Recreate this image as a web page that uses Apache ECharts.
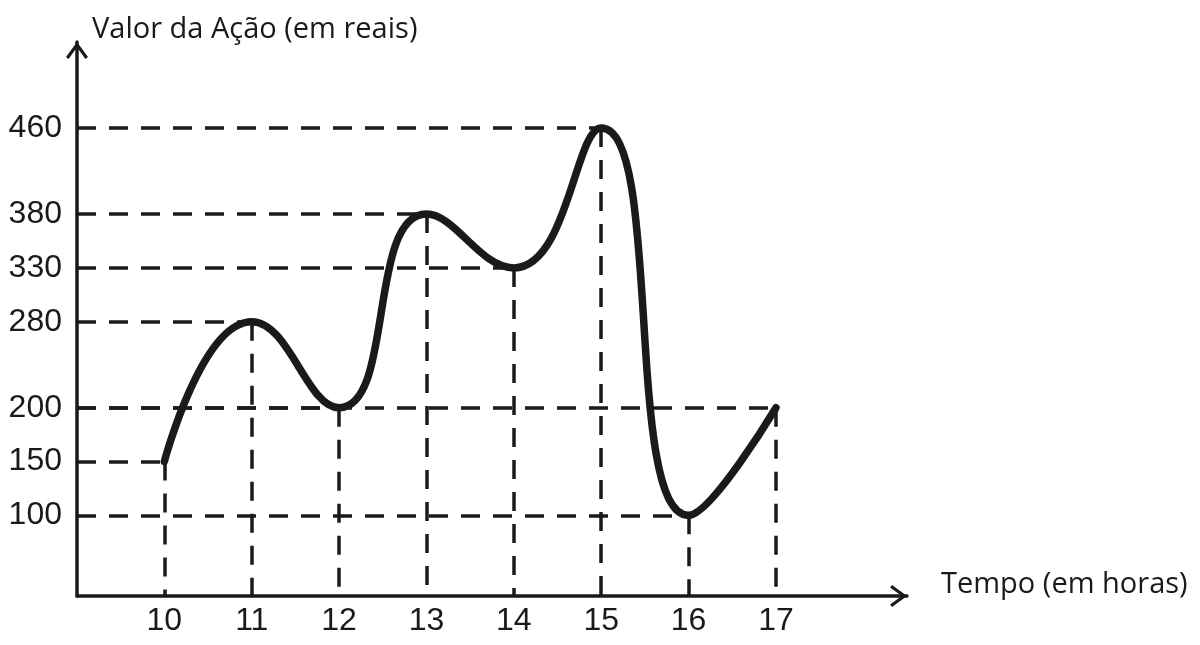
<!DOCTYPE html>
<html>
<head>
<meta charset="utf-8">
<script src="https://cdn.jsdelivr.net/npm/echarts@6/dist/echarts.min.js"></script>
<style>
  html, body { margin: 0; padding: 0; background: #ffffff; }
  #chart { width: 1200px; height: 645px; }
</style>
</head>
<body>
<div id="chart"></div>
<script>
// ---- data ----
var hours = [10, 11, 12, 13, 14, 15, 16, 17];
var prices = [150, 280, 200, 380, 330, 460, 100, 200];
var yTickLabels = [100, 150, 200, 280, 330, 380, 460];
var xAxisName = 'Tempo (em horas)';
var yAxisName = 'Valor da Ação (em reais)';

// ---- axis extents ----
var X_MIN = 9, X_MAX = 18.5;
var Y_MIN = 25, Y_MAX = 540;

var ink = '#1a1a1a';
var arrowPath = 'path://M11,0 L22,15 L19.4,17 L11,5.2 L2.6,17 L0,15 Z';

var curveData = hours.map(function (h, i) { return [h, prices[i]]; });

var guideLines = [];
hours.forEach(function (h, i) {
  guideLines.push([{ coord: [X_MIN, prices[i]] }, { coord: [h, prices[i]] }]);
  guideLines.push([{ coord: [h, prices[i]] }, { coord: [h, Y_MIN] }]);
});

var chart = echarts.init(document.getElementById('chart'), null, { renderer: 'canvas' });
chart.setOption({
  backgroundColor: '#ffffff',
  animation: false,
  grid: { left: 77, right: 293, top: 42, bottom: 49, containLabel: false },
  xAxis: {
    type: 'value',
    min: X_MIN,
    max: X_MAX,
    name: xAxisName,
    nameLocation: 'end',
    nameGap: 34,
    nameTextStyle: {
      fontFamily: 'Open Sans', fontSize: 29, color: ink,
      verticalAlign: 'bottom', lineHeight: 22
    },
    axisLine: {
      show: true,
      lineStyle: { color: ink, width: 3.5 },
      symbol: ['none', arrowPath],
      symbolSize: [22, 17],
      symbolOffset: [0, -8.5]
    },
    axisTick: { show: false },
    splitLine: { show: false },
    axisLabel: {
      customValues: hours,
      fontFamily: 'Liberation Sans, Arial, sans-serif',
      fontSize: 32,
      color: ink,
      margin: 9
    }
  },
  yAxis: {
    type: 'value',
    min: Y_MIN,
    max: Y_MAX,
    name: yAxisName,
    nameLocation: 'end',
    nameGap: -2,
    nameTextStyle: {
      fontFamily: 'Open Sans', fontSize: 29, color: ink,
      align: 'left', padding: [0, 0, 0, 15]
    },
    axisLine: {
      show: true,
      lineStyle: { color: ink, width: 3.5 },
      symbol: ['none', arrowPath],
      symbolSize: [22, 17],
      symbolOffset: [0, -8.5]
    },
    axisTick: { show: false },
    splitLine: { show: false },
    axisLabel: {
      customValues: yTickLabels,
      fontFamily: 'Liberation Sans, Arial, sans-serif',
      fontSize: 32,
      color: ink,
      margin: 15
    }
  },
  series: [
    {
      name: 'guides',
      type: 'line',
      data: [],
      z: 1,
      silent: true,
      markLine: {
        silent: true,
        symbol: ['none', 'none'],
        label: { show: false },
        emphasis: { disabled: true },
        lineStyle: { color: ink, width: 3.5, type: [19, 13] },
        data: guideLines
      }
    },
    {
      name: 'Valor',
      type: 'line',
      data: curveData,
      z: 3,
      smooth: 0.5,
      showSymbol: false,
      symbol: 'none',
      lineStyle: { color: ink, width: 7.5, cap: 'round', join: 'round' }
    }
  ]
});
</script>
</body>
</html>
